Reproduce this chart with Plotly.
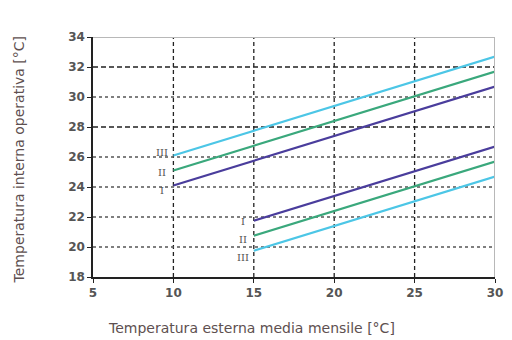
import plotly.graph_objects as go

# Adaptive comfort bands: operative temperature vs running mean outdoor temperature
categories = ["I", "II", "III"]
colors = {"I": "#4a3d9c", "II": "#3aa87c", "III": "#4cc6e6"}

upper_x = [10, 30]
upper_y = {"I": [24.1, 30.7], "II": [25.1, 31.7], "III": [26.1, 32.7]}

lower_x = [15, 30]
lower_y = {"I": [21.75, 26.7], "II": [20.75, 25.7], "III": [19.75, 24.7]}

x_ticks = [5, 10, 15, 20, 25, 30]
y_ticks = [18, 20, 22, 24, 26, 28, 30, 32, 34]

x_title = "Temperatura esterna media mensile [°C]"
y_title = "Temperatura interna operativa [°C]"

# label positions next to the start of each band line
upper_label_x = 9.3
upper_label_y = {"III": 26.3, "II": 25.0, "I": 23.8}
lower_label_x = 14.3
lower_label_y = {"I": 21.7, "II": 20.5, "III": 19.3}

fig = go.Figure()

# grid lines drawn as shapes to mix dash styles
grid_col = "#222222"
for gx in [10, 15, 20, 25]:
    fig.add_shape(type="line", x0=gx, x1=gx, y0=18, y1=34, xref="x", yref="y",
                  line=dict(color=grid_col, width=1.3, dash="4px,3px"), layer="below")
for gy in [20, 22, 24, 26, 28, 30, 32]:
    dash = "5px,3px" if gy in (28, 32) else "3px,3px"
    fig.add_shape(type="line", x0=5, x1=30, y0=gy, y1=gy, xref="x", yref="y",
                  line=dict(color=grid_col if gy in (28, 32) else "#555555", width=1.6, dash=dash),
                  layer="below")

for c in categories:
    fig.add_trace(go.Scatter(x=upper_x, y=upper_y[c], mode="lines",
                             line=dict(color=colors[c], width=2.2), showlegend=False))
    fig.add_trace(go.Scatter(x=lower_x, y=lower_y[c], mode="lines",
                             line=dict(color=colors[c], width=2.2), showlegend=False))

for c in categories:
    fig.add_annotation(x=upper_label_x, y=upper_label_y[c], text=c, showarrow=False,
                       font=dict(family="DejaVu Serif", size=10, color="#555555"))
    fig.add_annotation(x=lower_label_x, y=lower_label_y[c], text=c, showarrow=False,
                       font=dict(family="DejaVu Serif", size=10, color="#555555"))

# top and right frame in light grey
fig.add_shape(type="line", x0=5, x1=30, y0=34, y1=34, xref="x", yref="y",
              line=dict(color="#b8b8b8", width=2))
fig.add_shape(type="line", x0=30, x1=30, y0=18, y1=34, xref="x", yref="y",
              line=dict(color="#b8b8b8", width=2))

tick_font = dict(family="DejaVu Sans", size=12, color="#555555", weight="bold")
title_font = dict(family="DejaVu Sans", size=14, color="#5e5050")

# axis titles placed as annotations
fig.add_annotation(xref="paper", yref="paper", x=0.395, y=-0.2125, text=x_title,
                   showarrow=False, font=title_font, xanchor="center", yanchor="middle")
fig.add_annotation(xref="paper", yref="paper", x=-0.183, y=0.4875, text=y_title,
                   showarrow=False, font=title_font, textangle=-90,
                   xanchor="center", yanchor="middle")

fig.update_xaxes(range=[5, 30], tickvals=x_ticks, ticks="outside", ticklen=4,
                 tickcolor="#222222", showgrid=False, zeroline=False,
                 showline=True, linecolor="#222222", linewidth=1.5,
                 tickfont=tick_font)
fig.update_yaxes(range=[18, 34], tickvals=y_ticks, ticks="outside", ticklen=4,
                 tickcolor="#222222", showgrid=False, zeroline=False,
                 showline=True, linecolor="#222222", linewidth=1.5,
                 tickfont=tick_font)

fig.update_layout(width=512, height=340, plot_bgcolor="white", paper_bgcolor="white",
                  margin=dict(l=93, r=9, t=37, b=63))

fig.write_html("out.html")
